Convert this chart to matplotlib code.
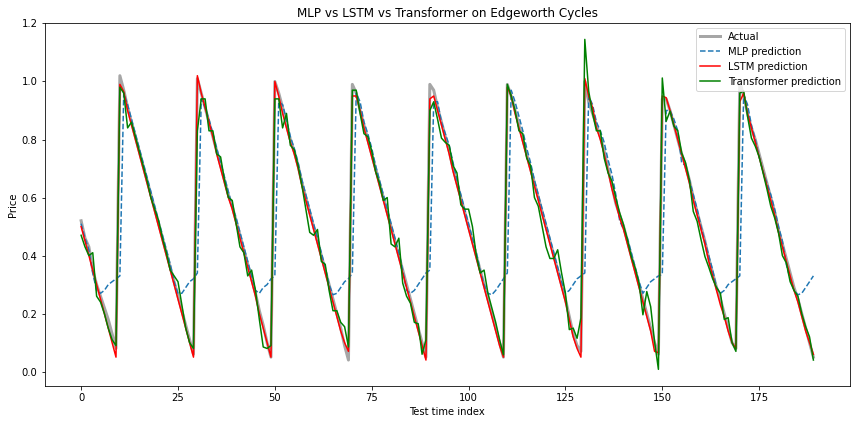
import matplotlib
matplotlib.use("Agg")
import matplotlib.pyplot as plt

# values, one per test time index (0..189)
actual = [
    0.52, 0.46, 0.43, 0.35, 0.30, 0.26, 0.22, 0.18, 0.13, 0.08,
    1.02, 0.97, 0.91, 0.86, 0.81, 0.76, 0.71, 0.66, 0.61, 0.56, 0.51, 0.46, 0.41, 0.36, 0.31, 0.26, 0.21, 0.16, 0.11, 0.06,
    1.01, 0.96, 0.91, 0.86, 0.81, 0.76, 0.71, 0.66, 0.61, 0.57, 0.52, 0.47, 0.42, 0.37, 0.32, 0.27, 0.21, 0.16, 0.10, 0.05,
    1.00, 0.96, 0.91, 0.85, 0.80, 0.76, 0.71, 0.65, 0.60, 0.55, 0.50, 0.45, 0.40, 0.35, 0.30, 0.25, 0.20, 0.15, 0.09, 0.04,
    0.99, 0.96, 0.90, 0.85, 0.80, 0.75, 0.70, 0.65, 0.60, 0.55, 0.50, 0.45, 0.40, 0.35, 0.30, 0.25, 0.20, 0.15, 0.10, 0.05,
    0.99, 0.97, 0.91, 0.86, 0.81, 0.76, 0.70, 0.65, 0.60, 0.55, 0.50, 0.45, 0.40, 0.35, 0.30, 0.25, 0.20, 0.15, 0.10, 0.05,
    0.99, 0.95, 0.90, 0.85, 0.80, 0.75, 0.70, 0.65, 0.60, 0.55, 0.50, 0.45, 0.40, 0.35, 0.30, 0.25, 0.19, 0.13, 0.09, 0.07,
    1.00, 0.93, 0.89, 0.85, 0.81, 0.76, 0.70, 0.64, 0.58, 0.54, 0.50, 0.45, 0.40, 0.35, 0.30, 0.25, 0.20, 0.15, 0.10, 0.06,
    0.94, 0.94, 0.90, 0.85, 0.80, 0.75, 0.71, 0.66, 0.60, 0.55, 0.50, 0.45, 0.39, 0.34, 0.29, 0.25, 0.20, 0.15, 0.10, 0.08,
    1.00, 0.95, 0.89, 0.84, 0.80, 0.75, 0.70, 0.65, 0.60, 0.55, 0.49, 0.44, 0.39, 0.34, 0.29, 0.25, 0.20, 0.15, 0.10, 0.05,
]

mlp_pred = [
    0.51, 0.46, 0.42, 0.34, 0.28, 0.27, 0.28, 0.30, 0.31, 0.32,
    0.33, 0.96, 0.92, 0.87, 0.82, 0.77, 0.72, 0.67, 0.62, 0.57, 0.52, 0.47, 0.42, 0.37, 0.31, 0.27, 0.27, 0.29, 0.31, 0.32,
    0.34, 0.94, 0.91, 0.87, 0.82, 0.77, 0.72, 0.67, 0.62, 0.57, 0.53, 0.48, 0.43, 0.38, 0.33, 0.28, 0.27, 0.29, 0.30, 0.32,
    0.33, 0.93, 0.92, 0.87, 0.81, 0.77, 0.72, 0.66, 0.61, 0.56, 0.51, 0.46, 0.41, 0.36, 0.30, 0.265, 0.27, 0.29, 0.31, 0.32,
    0.34, 0.96, 0.93, 0.86, 0.82, 0.77, 0.71, 0.66, 0.61, 0.56, 0.51, 0.46, 0.41, 0.35, 0.28, 0.27, 0.28, 0.30, 0.32, 0.34,
    0.35, 0.93, 0.93, 0.86, 0.82, 0.78, 0.72, 0.66, 0.61, 0.56, 0.51, 0.46, 0.41, 0.35, 0.30, 0.27, 0.265, 0.28, 0.30, 0.32,
    0.34, 0.97, 0.93, 0.88, 0.83, 0.77, 0.72, 0.66, 0.61, 0.56, 0.51, 0.46, 0.41, 0.36, 0.31, 0.27, 0.28, 0.30, 0.32, 0.33,
    0.34, 0.95, 0.92, 0.86, 0.83, 0.79, 0.73, 0.68, 0.61, 0.52, 0.49, 0.46, 0.41, 0.36, 0.31, 0.27, 0.29, 0.31, 0.32, 0.33,
    0.335, 0.90, 0.90, 0.87, 0.83, 0.72, 0.71, 0.66, 0.61, 0.56, 0.50, 0.45, 0.40, 0.35, 0.29, 0.27, 0.28, 0.30, 0.31, 0.32,
    0.33, 0.955, 0.92, 0.85, 0.80, 0.74, 0.69, 0.65, 0.61, 0.56, 0.50, 0.45, 0.37, 0.32, 0.28, 0.265, 0.27, 0.29, 0.31, 0.33,
]

lstm_pred = [
    0.50, 0.45, 0.40, 0.35, 0.30, 0.25, 0.20, 0.15, 0.10, 0.05,
    0.99, 0.965, 0.90, 0.85, 0.80, 0.75, 0.70, 0.65, 0.60, 0.55, 0.50, 0.45, 0.40, 0.35, 0.30, 0.25, 0.20, 0.15, 0.10, 0.05,
    1.02, 0.96, 0.91, 0.86, 0.81, 0.75, 0.70, 0.65, 0.60, 0.56, 0.51, 0.46, 0.41, 0.36, 0.31, 0.26, 0.20, 0.15, 0.10, 0.05,
    1.00, 0.95, 0.89, 0.84, 0.79, 0.75, 0.70, 0.64, 0.59, 0.54, 0.49, 0.44, 0.39, 0.34, 0.29, 0.24, 0.19, 0.14, 0.10, 0.07,
    0.95, 0.95, 0.90, 0.84, 0.79, 0.74, 0.69, 0.64, 0.59, 0.54, 0.49, 0.44, 0.39, 0.34, 0.29, 0.24, 0.19, 0.14, 0.09, 0.04,
    0.94, 0.95, 0.90, 0.85, 0.80, 0.75, 0.69, 0.64, 0.59, 0.54, 0.49, 0.44, 0.39, 0.34, 0.29, 0.24, 0.19, 0.14, 0.09, 0.05,
    0.98, 0.95, 0.89, 0.84, 0.79, 0.74, 0.69, 0.64, 0.59, 0.54, 0.49, 0.44, 0.39, 0.34, 0.29, 0.24, 0.18, 0.12, 0.08, 0.05,
    1.01, 0.95, 0.91, 0.84, 0.80, 0.75, 0.69, 0.63, 0.58, 0.53, 0.49, 0.44, 0.39, 0.34, 0.29, 0.24, 0.19, 0.14, 0.07, 0.065,
    0.95, 0.944, 0.90, 0.85, 0.80, 0.75, 0.70, 0.65, 0.59, 0.54, 0.49, 0.44, 0.38, 0.33, 0.28, 0.23, 0.19, 0.14, 0.10, 0.08,
    0.93, 0.96, 0.89, 0.84, 0.79, 0.74, 0.69, 0.64, 0.59, 0.54, 0.48, 0.43, 0.38, 0.33, 0.28, 0.24, 0.19, 0.14, 0.10, 0.06,
]

transformer_pred = [
    0.47, 0.43, 0.40, 0.41, 0.26, 0.24, 0.20, 0.15, 0.11, 0.09,
    0.98, 0.96, 0.84, 0.86, 0.81, 0.76, 0.71, 0.66, 0.60, 0.56, 0.52, 0.46, 0.41, 0.35, 0.33, 0.31, 0.23, 0.15, 0.10, 0.08,
    0.83, 0.94, 0.94, 0.83, 0.83, 0.75, 0.74, 0.66, 0.60, 0.59, 0.51, 0.43, 0.41, 0.33, 0.35, 0.28, 0.18, 0.085, 0.08, 0.09,
    0.94, 0.94, 0.84, 0.89, 0.78, 0.765, 0.71, 0.64, 0.56, 0.48, 0.47, 0.49, 0.38, 0.37, 0.28, 0.21, 0.21, 0.17, 0.155, 0.085,
    0.97, 0.97, 0.89, 0.82, 0.81, 0.76, 0.69, 0.65, 0.59, 0.60, 0.44, 0.43, 0.46, 0.305, 0.26, 0.236, 0.17, 0.165, 0.06, 0.11,
    0.90, 0.93, 0.87, 0.805, 0.79, 0.78, 0.71, 0.685, 0.575, 0.56, 0.56, 0.50, 0.40, 0.34, 0.35, 0.27, 0.22, 0.17, 0.11, 0.058,
    0.99, 0.95, 0.90, 0.83, 0.82, 0.736, 0.71, 0.60, 0.57, 0.50, 0.43, 0.39, 0.39, 0.42, 0.34, 0.27, 0.145, 0.15, 0.115, 0.185,
    1.145, 0.967, 0.89, 0.83, 0.83, 0.736, 0.685, 0.656, 0.60, 0.547, 0.506, 0.455, 0.397, 0.357, 0.305, 0.196, 0.276, 0.224, 0.104, 0.008,
    1.012, 0.863, 0.898, 0.846, 0.83, 0.754, 0.72, 0.66, 0.552, 0.518, 0.455, 0.397, 0.36, 0.32, 0.29, 0.27, 0.18, 0.186, 0.10, 0.07,
    0.96, 0.967, 0.88, 0.805, 0.777, 0.74, 0.685, 0.63, 0.57, 0.53, 0.478, 0.40, 0.375, 0.31, 0.28, 0.26, 0.20, 0.155, 0.12, 0.04,
]

t = list(range(len(actual)))

fig = plt.figure(figsize=(856 / 72, 424 / 72), dpi=72)
plt.subplots_adjust(left=0.052, right=0.993, top=0.946, bottom=0.09)

plt.plot(t, actual, color="gray", alpha=0.7, linewidth=3, label="Actual")
plt.plot(t, mlp_pred, "--", color="#1f77b4", linewidth=1.5, label="MLP prediction")
plt.plot(t, lstm_pred, color="red", linewidth=1.5, label="LSTM prediction")
plt.plot(t, transformer_pred, color="green", linewidth=1.5, label="Transformer prediction")

plt.title("MLP vs LSTM vs Transformer on Edgeworth Cycles")
plt.xlabel("Test time index")
plt.ylabel("Price")
plt.legend(loc="upper right")

plt.savefig("out.png", dpi=72)
